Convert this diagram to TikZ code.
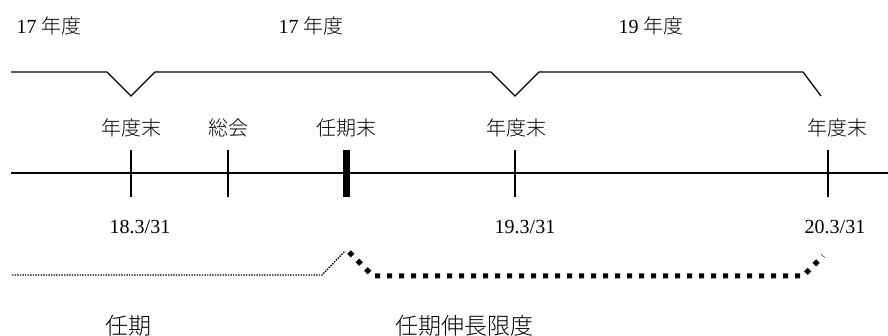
\documentclass[tikz,border=0pt]{standalone}
\usepackage{fontspec}
\setmainfont{Liberation Serif}
\newfontfamily\cjk{Noto Sans CJK JP Light}
\begin{document}
\begin{tikzpicture}[x=1pt,y=-1pt,
  lbl/.style={font=\fontsize{20}{24}\selectfont, inner sep=0pt, anchor=center},
  biglbl/.style={font=\fontsize{23}{27}\selectfont, inner sep=0pt, anchor=center},
  ln/.style={line width=1.3pt, line join=miter},
  tick/.style={line width=1.3pt},
  thintick/.style={line width=7pt},
  thindot/.style={line width=1.4pt, dash pattern=on 1.4pt off 1.2pt},
  thickdot/.style={line width=5pt, dash pattern=on 5pt off 7pt}]
\useasboundingbox (0,0) rectangle (888,336);
% top labels
\node[lbl] (y1) at (49,26) {17 {\cjk 年度}};
\node[lbl] (y2) at (311,26) {17 {\cjk 年度}};
\node[lbl] (y3) at (651,26) {19 {\cjk 年度}};
% bracket
\coordinate (b0) at (11,72);
\coordinate (v1) at (131,96);
\coordinate (v2) at (515,96);
\coordinate (bend) at (821,96);
\draw[ln] (b0) -- (107,72) -- (v1) -- (155,72) -- (491,72) -- (v2) -- (539,72) -- (803,72) -- (bend);
% event labels
\node[lbl] (e1) at (131,128) {\cjk 年度末};
\node[lbl] (e2) at (228,128) {\cjk 総会};
\node[lbl] (e3) at (346,128) {\cjk 任期末};
\node[lbl] (e4) at (516,128) {\cjk 年度末};
\node[lbl] (e5) at (837,128) {\cjk 年度末};
% timeline
\coordinate (t0) at (11,173);
\coordinate (t1) at (888,173);
\draw[ln] (t0) -- (t1);
\draw[tick] (131,150) -- (131,197);
\draw[tick] (228,150) -- (228,197);
\draw[thintick] (346,150) -- (346,197);
\draw[tick] (515,150) -- (515,197);
\draw[tick] (828,150) -- (828,197);
% dates
\node[lbl] (d1) at (140,227) {18.3/31};
\node[lbl] (d2) at (525,227) {19.3/31};
\node[lbl] (d3) at (835,227) {20.3/31};
% term lines
\coordinate (p0) at (12,275);
\coordinate (p1) at (322,275);
\coordinate (p2) at (345,251);
\draw[thindot] (p0) -- (p1) -- (p2);
\coordinate (q0) at (349,252);
\coordinate (q1) at (373,276);
\coordinate (q2) at (803,276);
\coordinate (q3) at (823,256);
\draw[thickdot] (q0) -- (q1) -- (q2) -- (q3);
% bottom labels
\node[biglbl] (f1) at (128,326) {\cjk 任期};
\node[biglbl] (f2) at (464,326) {\cjk 任期伸長限度};
\end{tikzpicture}
\end{document}
